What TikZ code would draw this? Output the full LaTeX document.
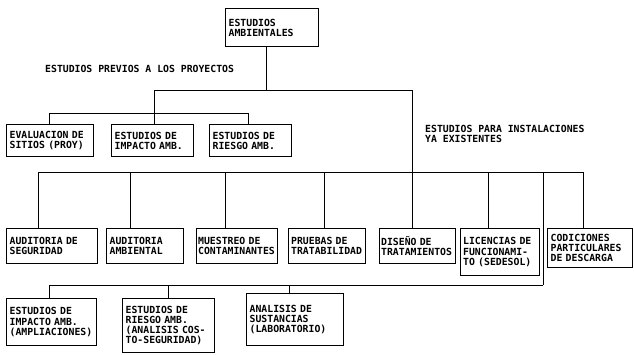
\documentclass[tikz,border=0pt]{standalone}
\usepackage{fontspec}
\newfontfamily\dmono{DejaVu Sans Mono}
\begin{document}
\begin{tikzpicture}[x=1pt,y=-1pt,
  txt/.style={font=\dmono\bfseries\fontsize{9.8}{10.2}\selectfont, inner sep=0pt},
  cell/.style={txt, draw=black, line width=1.3pt, anchor=north west, align=left, inner xsep=3pt, inner ysep=2pt},
  link/.style={draw=black, line width=1pt}]
\useasboundingbox (0,0) rectangle (634,354);
% top
\node[cell, minimum width=93pt, minimum height=38pt, text width=87pt] (top) at (225,8) {ESTUDIOS\\AMBIENTALES};
\node[txt, anchor=west] (prev) at (45,69) {ESTUDIOS PREVIOS A LOS PROYECTOS};
\node[txt, anchor=north west, align=left] (exist) at (425,125) {ESTUDIOS PARA INSTALACIONES\\YA EXISTENTES};
% row 1
\node[cell, minimum width=87pt, minimum height=32pt, text width=81pt] (e1) at (6,124) {EVALUACION DE\\SITIOS (PROY)};
\node[cell, minimum width=82pt, minimum height=32pt, text width=76pt] (e2) at (111,124) {ESTUDIOS DE\\IMPACTO AMB.};
\node[cell, minimum width=82pt, minimum height=32pt, text width=76pt] (e3) at (209,124) {ESTUDIOS DE\\RIESGO AMB.};
% row 2
\node[cell, minimum width=91pt, minimum height=35pt, text width=85pt] (f1) at (6,228) {AUDITORIA DE\\SEGURIDAD};
\node[cell, minimum width=77pt, minimum height=35pt, text width=71pt] (f2) at (106,228) {AUDITORIA\\AMBIENTAL};
\node[cell, minimum width=81pt, minimum height=35pt, text width=78pt, inner xsep=1.5pt] (f3) at (196,228) {MUESTREO DE\\CONTAMINANTES};
\node[cell, minimum width=77pt, minimum height=35pt, text width=72pt, inner xsep=2.5pt] (f4) at (288,228) {PRUEBAS DE\\TRATABILIDAD};
\node[cell, minimum width=76pt, minimum height=35pt, text width=73pt, inner xsep=1.5pt] (f5) at (379,228) {DISEÑO DE\\TRATAMIENTOS};
\node[cell, minimum width=79pt, minimum height=47pt, text width=74pt, inner xsep=2.5pt] (f6) at (460,228) {LICENCIAS DE\\FUNCIONAMI-\\TO (SEDESOL)};
\node[cell, minimum width=85pt, minimum height=39pt, text width=79pt] (f7) at (547,228) {CODICIONES\\PARTICULARES\\DE DESCARGA};
% row 3
\node[cell, minimum width=90pt, minimum height=47pt, text width=84pt] (g1) at (6,298) {ESTUDIOS DE\\IMPACTO AMB.\\(AMPLIACIONES)};
\node[cell, minimum width=92pt, minimum height=54pt, text width=86pt] (g2) at (122,298) {ESTUDIOS DE\\RIESGO AMB.\\(ANALISIS COS-\\TO-SEGURIDAD)};
\node[cell, minimum width=97pt, minimum height=52pt, text width=91pt] (g3) at (246,293) {ANALISIS DE\\SUSTANCIAS\\(LABORATORIO)};
% junction coordinates
\coordinate (t1) at (266,90);
\coordinate (h1a) at (154,90);
\coordinate (h1b) at (412,90);
\coordinate (h2m) at (154,113);
\coordinate (h2a) at (49,113);
\coordinate (h2b) at (248,113);
\coordinate (h3a) at (38,172);
\coordinate (h3b) at (583,172);
\coordinate (j2) at (130,172);
\coordinate (j3) at (225,172);
\coordinate (j4) at (324,172);
\coordinate (j6) at (488,172);
\coordinate (h4a) at (49,285);
\coordinate (h4b) at (543,285);
\coordinate (k2) at (168,285);
\coordinate (k3) at (289,285);
% connectors
\draw[link] (top.south -| t1) -- (t1);
\draw[link] (h1a) -- (h1b);
\draw[link] (h1a) -- (h2m);
\draw[link] (h2a) -- (h2b);
\draw[link] (h2a) -- (h2a |- e1.north);
\draw[link] (h2m) -- (h2m |- e2.north);
\draw[link] (h2b) -- (h2b |- e3.north);
\draw[link] (h1b) -- (h1b |- f5.north);
\draw[link] (h3a) -- (h3b);
\draw[link] (h3a) -- (h3a |- f1.north);
\draw[link] (j2) -- (j2 |- f2.north);
\draw[link] (j3) -- (j3 |- f3.north);
\draw[link] (j4) -- (j4 |- f4.north);
\draw[link] (j6) -- (j6 |- f6.north);
\draw[link] (h3b) -- (h3b |- f7.north);
\draw[link] (h4b |- h3a) -- (h4b);
\draw[link] (h4a) -- (h4b);
\draw[link] (h4a) -- (h4a |- g1.north);
\draw[link] (k2) -- (k2 |- g2.north);
\draw[link] (k3) -- (k3 |- g3.north);
\end{tikzpicture}
\end{document}
